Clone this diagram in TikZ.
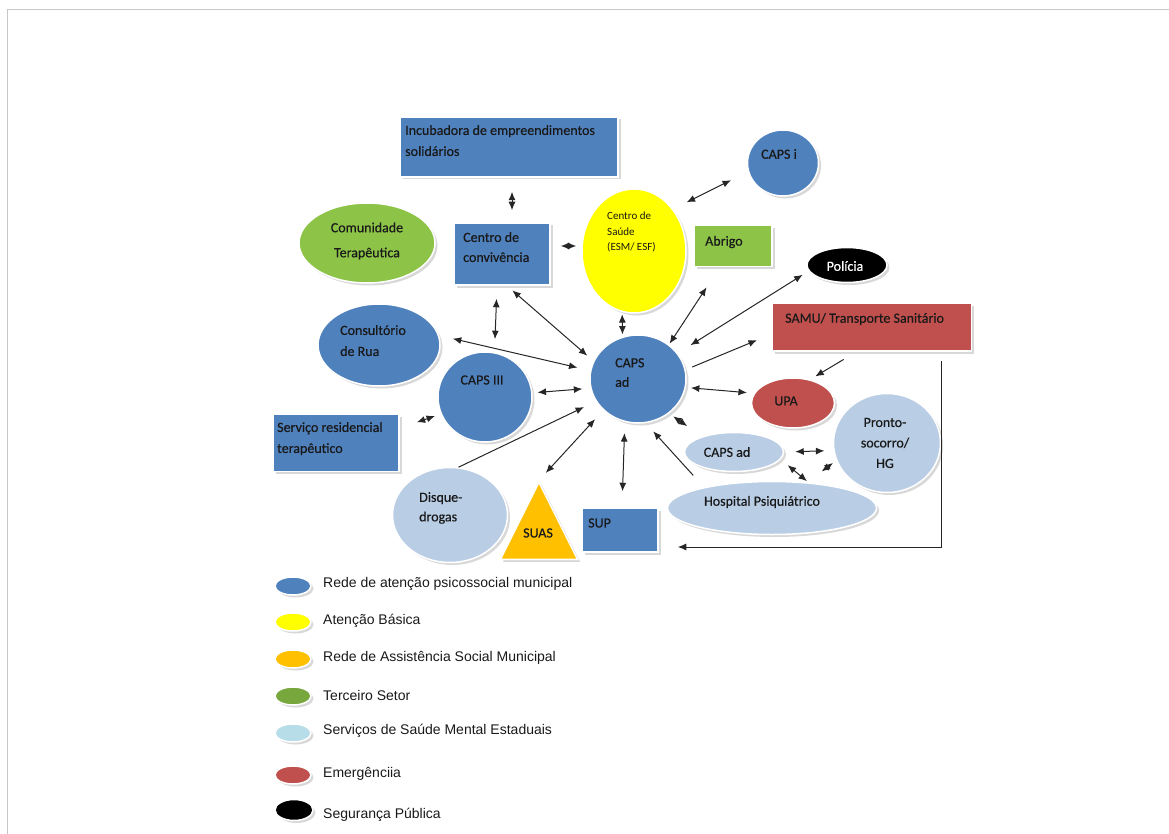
\documentclass[tikz,border=0pt]{standalone}
\usepackage{xcolor}
\usepackage{fontspec}
\setmainfont{Carlito}
\newfontfamily\diagfont{Carlito}[FakeBold=0.4]
\newfontfamily\legfont{Liberation Sans}
\usepackage{tikz}
\usetikzlibrary{calc,shapes,shapes.geometric,positioning,shadows,arrows.meta}

\definecolor{rapsblue}{HTML}{4F81BD}
\definecolor{basicyellow}{HTML}{FFFF00}
\definecolor{suasorange}{HTML}{FFC000}
\definecolor{thirdgreen}{RGB}{141,196,72}
\definecolor{stateblue}{HTML}{B9CDE5}
\definecolor{keyblue}{HTML}{B7DDE8}
\definecolor{emergred}{HTML}{C0504D}

\begin{document}
\begin{tikzpicture}[
    x=1pt, y=-1pt,
    shp/.style={draw=white, line width=1.5pt, inner sep=0pt,
        drop shadow={shadow xshift=2.5pt, shadow yshift=-2.5pt, fill=black!30}},
    box/.style={shp, rectangle},
    oval/.style={shp, ellipse},
    lbl/.style={inner sep=0pt, align=left, font=\diagfont\fontsize{14}{21}\selectfont, text=black!90},
    arrow/.style={->, >={Latex[length=8.5pt,width=7pt]}, line width=1pt, black!85},
    dbl/.style={<->, >={Latex[length=8.5pt,width=7pt]}, line width=1pt, black!85},
    key/.style={oval, minimum width=36pt, minimum height=18pt},
    keytext/.style={inner sep=0pt, anchor=west, font=\legfont\fontsize{14}{16}\selectfont, text=black!90}
]
    \useasboundingbox (0,0) rectangle (1169,834);
    \draw[black!22, line width=1pt] (7,834) -- (7,10) -- (1169,10);

    % shapes
    \node[box, fill=rapsblue, minimum width=218pt, minimum height=60pt] (incub) at (509,147) {};
    \node[box, fill=rapsblue, minimum width=96pt, minimum height=62pt] (conviv) at (502,254) {};
    \node[oval, fill=thirdgreen, minimum width=136pt, minimum height=80pt] (comunid) at (367,243) {};
    \node[oval, fill=basicyellow, minimum width=104pt, minimum height=124pt] (saude) at (634,251) {};
    \node[oval, fill=rapsblue, minimum width=71pt, minimum height=66pt] (capsi) at (783,163) {};
    \node[box, fill=thirdgreen, minimum width=78pt, minimum height=41pt] (abrigo) at (733,246) {};
    \node[oval, fill=black, minimum width=80pt, minimum height=35pt] (policia) at (847,265) {};
    \node[box, fill=emergred, minimum width=199pt, minimum height=48pt] (samu) at (872,327) {};
    \node[oval, fill=rapsblue, minimum width=96pt, minimum height=88pt] (capsad) at (638,379) {};
    \node[oval, fill=rapsblue, minimum width=122pt, minimum height=82pt] (consult) at (379,345) {};
    \node[oval, fill=rapsblue, minimum width=94pt, minimum height=90pt] (caps3) at (485,397) {};
    \node[box, fill=rapsblue, minimum width=126pt, minimum height=57pt] (resid) at (336,443) {};
    \node[oval, fill=emergred, minimum width=83pt, minimum height=50pt] (upa) at (793,403) {};
    \node[oval, fill=stateblue, minimum width=107pt, minimum height=99pt] (ps) at (887,443) {};
    \node[oval, fill=stateblue, minimum width=99pt, minimum height=39pt] (capsad2) at (734,452) {};
    \node[oval, fill=stateblue, minimum width=209pt, minimum height=53pt] (hosp) at (772,508) {};
    \node[oval, fill=stateblue, minimum width=115pt, minimum height=95pt] (disque) at (450,515) {};
    \node[shp, fill=suasorange, isosceles triangle, shape border rotate=90, isosceles triangle stretches,
          minimum width=77pt, minimum height=77pt, anchor=lower side] (suas) at (539,560) {};
    \node[box, fill=rapsblue, minimum width=76pt, minimum height=44pt] (sup) at (620,530) {};

    % texts
    \node[lbl, anchor=north west] (incub-t) at (405,125) {Incubadora de empreendimentos\\solidários};
    \node[lbl, anchor=north west, font=\diagfont\fontsize{14}{20}\selectfont] (conviv-t) at (463,232) {Centro de\\convivência};
    \node[lbl, align=center, font=\diagfont\fontsize{14}{25}\selectfont] (comunid-t) at (367,241) {Comunidade\\Terapêutica};
    \node[lbl, anchor=north west, font=\fontsize{11}{15.5}\selectfont] (saude-t) at (607,212) {Centro de\\Saúde\\(ESM/ ESF)};
    \node[lbl] (capsi-t) at (779,154) {CAPS i};
    \node[lbl, anchor=west] (abrigo-t) at (705,242) {Abrigo};
    \node[lbl, text=white] (policia-t) at (845,266) {Polícia};
    \node[lbl, anchor=west] (samu-t) at (785,319) {SAMU/ Transporte Sanitário};
    \node[lbl, anchor=north west, font=\diagfont\fontsize{14}{19.5}\selectfont] (capsad-t) at (615,358) {CAPS\\ad};
    \node[lbl, anchor=north west] (consult-t) at (340,325) {Consultório\\de Rua};
    \node[lbl] (caps3-t) at (482,380) {CAPS III};
    \node[lbl, anchor=north west] (resid-t) at (277,422) {Serviço residencial\\terapêutico};
    \node[lbl] (upa-t) at (786,401) {UPA};
    \node[lbl, align=center, font=\diagfont\fontsize{14}{20.5}\selectfont] (ps-t) at (885,443) {Pronto-\\socorro/\\HG};
    \node[lbl] (capsad2-t) at (727,452) {CAPS ad};
    \node[lbl] (hosp-t) at (762,502) {Hospital Psiquiátrico};
    \node[lbl, anchor=north west, font=\diagfont\fontsize{14}{19.5}\selectfont] (disque-t) at (419,492) {Disque-\\drogas};
    \node[lbl] (suas-t) at (538,533) {SUAS};
    \node[lbl, anchor=west] (sup-t) at (588,523) {SUP};

    % connectors
    \draw[dbl, shorten <=14pt, shorten >=12pt] ([xshift=3pt]incub.south) -- ([xshift=10pt]conviv.north);
    \draw[dbl, shorten <=10pt, shorten >=5pt] ([yshift=8pt]conviv.east) -- ([yshift=5pt]saude.west);
    \draw[dbl, shorten <=15pt, shorten >=19pt] (saude.47) -- (capsi.194);
    \draw[dbl, shorten <=2pt, shorten >=2pt] (saude.259) -- (capsad.110);
    \draw[dbl, shorten <=7pt, shorten >=8pt] (conviv.-81) -- (capsad.158);
    \draw[dbl, shorten <=13pt, shorten >=13pt] ([xshift=-5pt]conviv.south) -- (caps3.78);
    \draw[dbl, shorten <=14pt, shorten >=13pt] (consult.9) -- (capsad.170);
    \draw[dbl, shorten <=5pt, shorten >=8pt] (caps3.5) -- (capsad.191);
    \draw[dbl, shorten <=18pt, shorten >=6pt] (resid.13) -- (caps3.201);
    \draw[arrow, shorten >=13pt] (disque.80) -- (capsad.208);
    \draw[dbl, shorten <=10pt, shorten >=12pt] (suas.apex) -- (capsad.222);
    \draw[dbl, shorten <=16pt, shorten >=11pt] ([xshift=2pt]sup.north) -- (capsad.253);
    \draw[arrow, shorten <=16pt, shorten >=11pt] (hosp.163) -- (capsad.280);
    \draw[dbl, shorten <=5pt, shorten >=18pt] (capsad.-48) -- (capsad2.154);
    \draw[dbl, shorten <=5pt, shorten >=7pt] (capsad.-10) -- (upa.166);
    \draw[arrow, shorten <=7pt, shorten >=16pt] (capsad.11) -- (samu.184);
    \draw[dbl, shorten <=15pt, shorten >=7pt] (capsad.33) -- (policia.189);
    \draw[dbl, shorten <=1pt, shorten >=24pt] (capsad.48) -- (abrigo.238);
    \draw[arrow, shorten <=15pt, shorten >=6pt] (samu.238) -- (upa.54);
    \draw[dbl, shorten <=11pt, shorten >=9pt] (capsad2.0) -- (ps.188);
    \draw[dbl, shorten <=9pt, shorten >=2pt] (capsad2.-9) -- (hosp.35);
    \draw[dbl, shorten <=4pt, shorten >=18pt] (ps.199) -- (hosp.36);
    \draw[arrow, shorten <=9pt, shorten >=19pt] ([xshift=69pt]samu.south) |- ([yshift=-17pt]sup.east);

    % legend
    \node[key, fill=rapsblue] (key1) at (293,586) {};
    \node[key, fill=basicyellow] (key2) at (293,622) {};
    \node[key, fill=suasorange] (key3) at (293,659) {};
    \node[key, fill=thirdgreen!85!black] (key4) at (293,696) {};
    \node[key, fill=keyblue] (key5) at (293,733) {};
    \node[key, fill=emergred] (key6) at (293,775) {};
    \node[key, fill=black, minimum height=21pt, minimum width=38pt] (key7) at (294,810) {};
    \node[keytext] (key1-t) at (323,584) {Rede de atenção psicossocial municipal};
    \node[keytext] (key2-t) at (323,621) {Atenção Básica};
    \node[keytext] (key3-t) at (323,658) {Rede de Assistência Social Municipal};
    \node[keytext] (key4-t) at (323,695) {Terceiro Setor};
    \node[keytext] (key5-t) at (323,731) {Serviços de Saúde Mental Estaduais};
    \node[keytext] (key6-t) at (323,774) {Emergênciia};
    \node[keytext] (key7-t) at (323,815) {Segurança Pública};
\end{tikzpicture}
\end{document}
